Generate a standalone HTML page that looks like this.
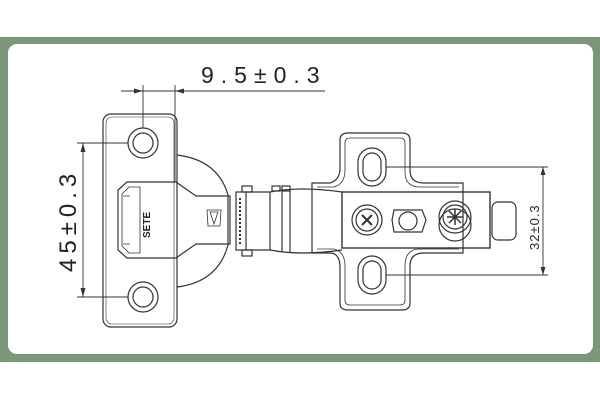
<!DOCTYPE html>
<html><head><meta charset="utf-8"><style>
html,body{margin:0;padding:0;background:#fff;width:600px;height:400px;overflow:hidden}
svg{display:block}
text{font-family:"Liberation Sans",sans-serif;fill:#222}
</style></head><body>
<svg width="600" height="400" viewBox="0 0 600 400">
<rect x="0" y="0" width="600" height="400" fill="#fff"/>
<rect x="0" y="37" width="600" height="325" fill="#7a9877"/>
<rect x="8" y="44" width="585" height="310" rx="9" fill="#fff"/>
<g fill="none" stroke="#333" stroke-width="1.2">
<path d="M177 155 Q218 160 228 195 L228 245 Q218 282 177 287"/>
<rect x="103" y="114" width="74" height="213" rx="8"/>
<rect x="106" y="117" width="68" height="207" rx="6" stroke-width="0.6"/>
<circle cx="143" cy="143" r="15"/><circle cx="143" cy="143" r="10"/>
<circle cx="143" cy="297" r="15"/><circle cx="143" cy="297" r="10"/>
<path d="M127 182 L176 182 L196 196 L230 196 L230 244 L196 244 L176 258 L127 258 L118 250 L118 190 Z"/>
<path d="M129 187 L140 187 L140 253 L129 253 L122 246 L122 194 Z" stroke-width="0.8"/>
<path d="M123 196 L130 196 M123 244 L130 244" stroke-width="0.8"/>
<text x="0" y="0" transform="translate(150,238) rotate(-90)" font-size="10" font-weight="bold" stroke="none">SETE</text>
<path d="M210 212 L218 212 L214 224 Z M207 210 L221 210 L220 226 L208 226 Z" stroke-width="0.8"/>
<rect x="236" y="192" width="10" height="58"/>
<path d="M240 198 L240 244" stroke-dasharray="2 2" stroke-width="2"/>
<path d="M246 192 L270 192 Q300 186 342 192 M246 250 L270 250 Q300 256 342 250"/>
<path d="M282 190 L282 252 M290 190 L290 252 M270 192 L270 250"/>
<rect x="242" y="186" width="10" height="6"/><rect x="272" y="186" width="8" height="5"/><rect x="282" y="186" width="8" height="5"/>
<rect x="242" y="250" width="10" height="6"/>
<path d="M312 183 L330 183 Q340 180 340 168 L340 140 Q340 133 348 133 L402 133 Q410 133 410 140 L410 170 Q410 183 424 183 L463 183 L463 253 L424 253 Q410 253 410 266 L410 303 Q410 310 402 310 L348 310 Q340 310 340 303 L340 268 Q340 253 330 253 L312 253 Z"/>
<path d="M317 187 L334 187 Q345 184 345 170 L345 143 Q345 138 350 138 L400 138 Q405 138 405 143 L405 172 Q405 187 420 187 L459 187 M317 249 L334 249 Q345 252 345 266 L345 300 Q345 305 350 305 L400 305 Q405 305 405 300 L405 266 Q405 249 420 249 L459 249" stroke-width="0.8"/>
<rect x="358" y="148" width="28" height="38" rx="14"/><rect x="363" y="153" width="18" height="28" rx="9"/>
<rect x="358" y="256" width="28" height="38" rx="14"/><rect x="363" y="261" width="18" height="28" rx="9"/>
<rect x="342" y="192" width="148" height="56" stroke-width="1.4"/>
<circle cx="367" cy="220" r="15"/><circle cx="367" cy="220" r="11"/>
<path d="M362 215 L372 225 M372 215 L362 225" stroke-width="2"/>
<path d="M394 210 L422 210 L426 220 L422 232 L394 232 L392 220 Z"/><circle cx="408" cy="221" r="9"/>
<circle cx="455" cy="225" r="16"/>
<circle cx="455" cy="217" r="16"/><circle cx="455" cy="217" r="12"/>
<path d="M449 211 L461 223 M461 211 L449 223 M447 217 L463 217 M455 209 L455 225" stroke-width="1.5"/>
<rect x="492" y="202" width="24" height="38" rx="6"/>
<g stroke-width="0.9">
<path d="M143 85 L143 128 M175 85 L175 182 M121 91 L325 91"/>
<path d="M77 143 L128 143 M77 297 L128 297 M83 143 L83 297"/>
<path d="M386 167 L548 167 M386 275 L548 275 M543 167 L543 275"/>
</g>
</g>
<g fill="#333">
<path d="M143 91 L134 88.5 L134 93.5 Z M175 91 L184 88.5 L184 93.5 Z"/>
<path d="M83 143 L80.5 152 L85.5 152 Z M83 297 L80.5 288 L85.5 288 Z"/>
<path d="M543 167 L540.5 175 L545.5 175 Z M543 275 L540.5 267 L545.5 267 Z"/>
</g>
<text x="201" y="83" font-size="23" letter-spacing="7">9.5±0.3</text>
<text transform="translate(76,272) rotate(-90)" font-size="24" letter-spacing="5">45±0.3</text>
<text transform="translate(539,250) rotate(-90)" font-size="13" letter-spacing="1">32±0.3</text>
</svg>
</body></html>
